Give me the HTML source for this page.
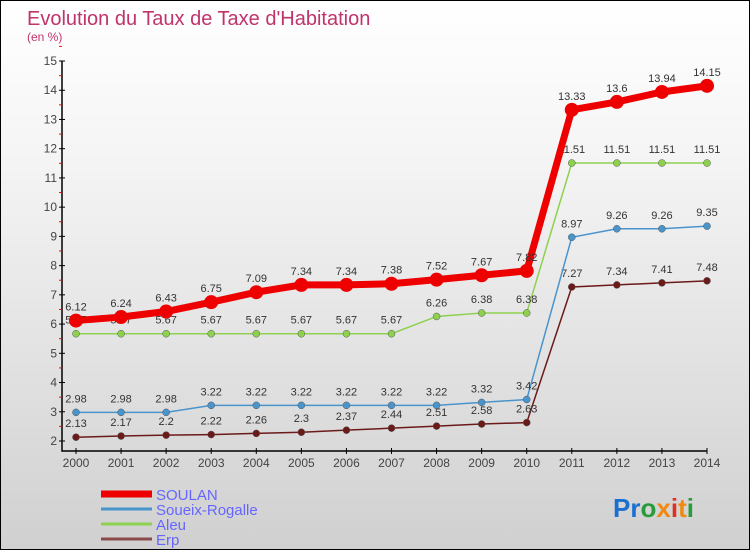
<!DOCTYPE html>
<html><head><meta charset="utf-8"><style>
body{margin:0}
#c{width:750px;height:550px;position:relative;box-sizing:border-box;border:1px solid #000;background:linear-gradient(#ffffff,#f4f4f4 30%,#d0d0d0);font-family:"Liberation Sans",sans-serif;overflow:hidden}
</style></head><body>
<div id="c">
<svg id="s" width="750" height="550" style="position:absolute;left:0;top:0">
<text x="26" y="24" font-size="20" fill="#c0336b">Evolution du Taux de Taxe d'Habitation</text>
<text x="26" y="40" font-size="12" fill="#c0336b">(en %)</text>
<g id="g"></g>
<text x="612" y="516" font-size="26" font-weight="bold"><tspan fill="#1a6fcf">Pr</tspan><tspan fill="#2a9a3a">o</tspan><tspan fill="#f08a10">x</tspan><tspan fill="#e03020">i</tspan><tspan fill="#f08a10">t</tspan><tspan fill="#2a9a3a">i</tspan></text>
</svg>
</div>
<script>
const years=[2000,2001,2002,2003,2004,2005,2006,2007,2008,2009,2010,2011,2012,2013,2014];
const soulan=[6.12,6.24,6.43,6.75,7.09,7.34,7.34,7.38,7.52,7.67,7.82,13.33,13.6,13.94,14.15];
const soueix=[2.98,2.98,2.98,3.22,3.22,3.22,3.22,3.22,3.22,3.32,3.42,8.97,9.26,9.26,9.35];
const aleu=[5.67,5.67,5.67,5.67,5.67,5.67,5.67,5.67,6.26,6.38,6.38,11.51,11.51,11.51,11.51];
const erp=[2.13,2.17,2.2,2.22,2.26,2.3,2.37,2.44,2.51,2.58,2.63,7.27,7.34,7.41,7.48];
const yTicks=[2,3,4,5,6,7,8,9,10,11,12,13,14,15];
const X=i=>75+i*(706-75)/(years.length-1);
const Y=v=>440-(v-2)*(380/13);
const g=document.getElementById('g');
const NS='http://www.w3.org/2000/svg';
function mk(t,a,p){const e=document.createElementNS(NS,t);for(const k in a)e.setAttribute(k,a[k]);(p||g).appendChild(e);return e;}
let ax=mk('path',{d:'M61 60V450H706',stroke:'#000',fill:'none','stroke-width':1.5});


yTicks.forEach(v=>{
 mk('line',{x1:58,x2:64,y1:Y(v),y2:Y(v),stroke:'#000'});
 mk('line',{x1:58,x2:61,y1:Y(v+0.5),y2:Y(v+0.5),stroke:'#f00'});
 const t=mk('text',{x:56,y:Y(v)+4,'font-size':12,'text-anchor':'end',fill:'#444'});t.textContent=v;
 
 
});
years.forEach((yr,i)=>{
 mk('line',{x1:X(i),x2:X(i),y1:447,y2:453,stroke:'#000'});
 const t=mk('text',{x:X(i),y:466,'font-size':12,'text-anchor':'middle',fill:'#444'});t.textContent=yr;
 
 
});
const series=[
 {n:'erp',d:erp,c:'#6b1a1a',w:1.5,r:3.5},
 {n:'aleu',d:aleu,c:'#8ed14f',w:1.5,r:3.5},
 {n:'soueix-rogalle',d:soueix,c:'#4a94cc',w:1.5,r:3.5},
 {n:'soulan',d:soulan,c:'#ee0000',w:7,r:7}];
series.forEach(s=>{
 const p=mk('polyline',{points:s.d.map((v,i)=>X(i)+','+Y(v)).join(' '),fill:'none',stroke:s.c,'stroke-width':s.w});
 
 
 s.d.forEach((v,i)=>{
  const c=mk('circle',{cx:X(i),cy:Y(v),r:s.r,fill:s.c,stroke:s.w>2?'none':'#555','stroke-width':0.5});
  
  
  const t=mk('text',{x:X(i),y:Y(v)-10,'font-size':11,'text-anchor':'middle',fill:'#333'});t.textContent=v;
  
  
 });
});
const leg=[['SOULAN','#ee0000',7],['Soueix-Rogalle','#4a94cc',3],['Aleu','#8ed14f',3],['Erp','#8b4a4a',3]];
leg.forEach((l,i)=>{
 const y=493+i*15;
 mk('line',{x1:100,x2:151,y1:y,y2:y,stroke:l[1],'stroke-width':l[2]});
 const t=mk('text',{x:155,y:y+6,'font-size':15,fill:'#6666ff'});t.textContent=l[0];
 
 
});
</script>
</body></html>
